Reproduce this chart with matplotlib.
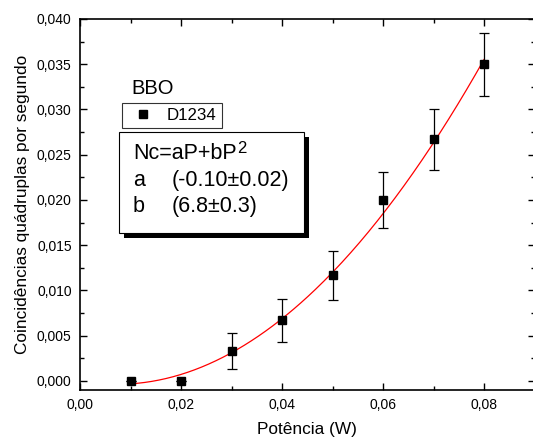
import numpy as np
import matplotlib
matplotlib.use("Agg")
import matplotlib.pyplot as plt
from matplotlib.ticker import MultipleLocator, FuncFormatter
from matplotlib.patches import Rectangle
from matplotlib.lines import Line2D

plt.rcParams['font.family'] = ['Liberation Sans', 'DejaVu Sans']

# dados
potencia = [0.01, 0.02, 0.03, 0.04, 0.05, 0.06, 0.07, 0.08]
coincid = [0.0000, 0.0000, 0.0033, 0.0067, 0.0117, 0.0200, 0.0267, 0.0350]
erro = [0.0, 0.0, 0.0020, 0.0024, 0.0027, 0.0031, 0.0034, 0.0035]

# ajuste Nc = aP + bP^2
a_fit = -0.10
b_fit = 6.8

fig = plt.figure(figsize=(5.33, 4.38), dpi=100)
ax = fig.add_axes([80/533, 48/438, (534.5-80)/533, (390-19)/438])

P = np.linspace(0.01, 0.08, 200)
ax.plot(P, a_fit*P + b_fit*P**2, color="red", lw=0.9, zorder=2)
ax.errorbar(potencia, coincid, yerr=erro, fmt="s", color="black", ms=5.5,
            ecolor="black", elinewidth=0.9, capsize=3.5, capthick=0.9, zorder=3)

ax.set_xlim(0, 0.09)
ax.set_ylim(-0.001, 0.040)
ax.xaxis.set_major_locator(MultipleLocator(0.02))
ax.xaxis.set_minor_locator(MultipleLocator(0.01))
ax.yaxis.set_major_locator(MultipleLocator(0.005))
ax.yaxis.set_minor_locator(MultipleLocator(0.0025))
ax.xaxis.set_major_formatter(FuncFormatter(lambda v, p: f"{v:.2f}".replace(".", ",")))
ax.yaxis.set_major_formatter(FuncFormatter(lambda v, p: f"{v:.3f}".replace(".", ",")))
ax.tick_params(which="both", direction="in", top=True, right=True, labelsize=10, width=1)
ax.tick_params(which="major", length=5, pad=6)
ax.tick_params(which="minor", length=3)
for s in ax.spines.values():
    s.set_linewidth(1.2)

ax.set_xlabel("Potência (W)", fontsize=12.4, labelpad=7)
ax.set_ylabel("Coincidências quádruplas por segundo", fontsize=12.4, labelpad=5)

# legenda
fig.text(131/533, 1-88/438, "BBO", fontsize=14.5, va="center", ha="left")
handle = Line2D([], [], ls="none", marker="s", color="black", ms=5.5)
leg = ax.legend([handle], ["D1234"], loc="upper left",
                bbox_to_anchor=((122-80)/454.5, (390-103)/371),
                frameon=True, fontsize=12.2, handlelength=1.9, handletextpad=0.45,
                borderpad=0.3, borderaxespad=0, fancybox=False)
leg.get_frame().set_edgecolor("black")
leg.get_frame().set_linewidth(0.8)

# caixa de ajuste com sombra
fig.patches.append(Rectangle((124/533, 1-238/438), 185/533, 101/438, transform=fig.transFigure,
                             facecolor="black", edgecolor="none", zorder=4))
fig.patches.append(Rectangle((119/533, 1-233/438), 185/533, 101/438, transform=fig.transFigure,
                             facecolor="white", edgecolor="black", lw=0.8, zorder=5))
fs = 15.5
fig.text(133/533, 1-159/438, "Nc=aP+bP", fontsize=fs, va="baseline", zorder=6)
fig.text(237/533, 1-153/438, "2", fontsize=12, va="baseline", zorder=6)
fig.text(133/533, 1-186/438, "a", fontsize=fs, va="baseline", zorder=6)
fig.text(172/533, 1-186/438, "(-0.10±0.02)", fontsize=fs, va="baseline", zorder=6)
fig.text(133/533, 1-212/438, "b", fontsize=fs, va="baseline", zorder=6)
fig.text(172/533, 1-212/438, "(6.8±0.3)", fontsize=fs, va="baseline", zorder=6)

fig.savefig("out.png", dpi=100)
